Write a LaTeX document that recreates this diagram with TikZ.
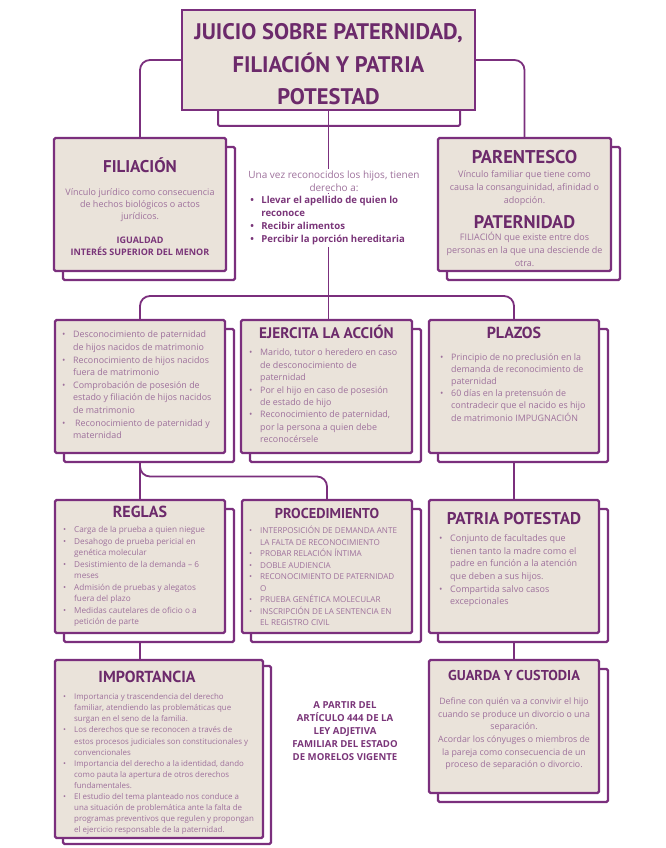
\documentclass[tikz,border=0pt]{standalone}
\usepackage{fontspec}
\setmainfont{Open Sans}
\newfontfamily\headfont{PT Sans}
\usetikzlibrary{positioning, calc, backgrounds, shadows}
\definecolor{DarkPurple}{HTML}{7B2F7D}
\definecolor{HeadPurple}{HTML}{6C2A6B}
\definecolor{BodyPurple}{HTML}{9E719C}
\definecolor{BoldPurple}{HTML}{7A3579}
\definecolor{BeigeBg}{HTML}{EAE3DA}
\tikzset{
    boxbase/.style={rectangle, draw=DarkPurple, fill=BeigeBg, line width=2.2pt, rounded corners=1.5pt, inner sep=0pt, outer sep=0pt},
    box/.style={boxbase, copy shadow={shadow xshift=9pt, shadow yshift=-9pt, fill=white, draw=DarkPurple, line width=2.2pt}},
    box_s/.style={boxbase, copy shadow={shadow xshift=8pt, shadow yshift=-6pt, fill=white, draw=DarkPurple, line width=2.2pt}},
    titlebox/.style={rectangle, draw=DarkPurple, fill=BeigeBg, line width=2pt, outer sep=0pt, minimum width=293pt, minimum height=100pt, align=center, text=HeadPurple, font=\headfont\bfseries\fontsize{22.5}{32.5}\selectfont},
    head/.style={text=HeadPurple, inner sep=0pt, anchor=base, font=\headfont\bfseries\fontsize{#1}{#1}\selectfont},
    body/.style n args={2}{text=BodyPurple, inner sep=0pt, align=left, font=\fontsize{#1}{#2}\selectfont},
    bodyb/.style n args={2}{text=BoldPurple, inner sep=0pt, align=left, font=\bfseries\fontsize{#1}{#2}\selectfont},
    conn/.style={draw=DarkPurple, line width=1.8pt, rounded corners=10pt},
}
\newcommand{\bul}{\makebox[11pt][l]{\textbullet}}
\newcommand{\cont}{\hspace*{11pt}}

\begin{document}
\begin{tikzpicture}[x=1pt, y=-1pt]
\useasboundingbox (0,0) rectangle (665,848);

% title
\node[titlebox] (title) at (328.5,60) {\rule{0pt}{25pt}JUICIO SOBRE PATERNIDAD,\\FILIACIÓN Y PATRIA\\POTESTAD};
\draw[DarkPurple, line width=2pt, rounded corners=1.5pt] ([xshift=36pt]title.south west) |- ([xshift=-15pt, yshift=-16pt]title.south east) -- ([xshift=-15pt]title.south east);

% first row
\node[box, minimum width=172pt, minimum height=133pt] (filiacion) at (140,204.5) {};
\node[head=17] (filiacionH) at ([yshift=-34pt]filiacion.north) {FILIACIÓN};
\node[body={9}{12.2}, align=center, below=15.6pt of filiacionH] (filiacionB) {Vínculo jurídico como consecuencia\\de hechos biológicos o actos\\jurídicos.\\[11.8pt]\textcolor{BoldPurple}{\bfseries IGUALDAD}\\\textcolor{BoldPurple}{\bfseries INTERÉS SUPERIOR DEL MENOR}};

\node[body={10}{12.5}, align=center, fill=white, inner sep=2pt, below=59pt of title.south, xshift=5.5pt] (derechos) {Una vez reconocidos los hijos, tienen\\derecho a:};
\node[bodyb={9.6}{13}, fill=white, inner sep=2pt, below right=0.5pt and 2pt of derechos.south west] (derechosL) {\bul Llevar el apellido de quien lo\\\cont reconoce\\\bul Recibir alimentos\\\bul Percibir la porción hereditaria};

\node[box, minimum width=173pt, minimum height=133pt, right=212pt of filiacion] (parentesco) {};
\node[head=18.5] (parentescoH) at ([yshift=-25.5pt]parentesco.north) {PARENTESCO};
\node[body={9}{13}, align=center, below=6.5pt of parentescoH] (parentescoB) {Vínculo familiar que tiene como\\causa la consanguinidad, afinidad o\\adopción.};
\node[head=18.3] (paternidadH) at ([yshift=-90.4pt]parentesco.north) {PATERNIDAD};
\node[body={9}{13}, align=center, below=3.6pt of paternidadH] (paternidadB) {FILIACIÓN que existe entre dos\\personas en la que una desciende de\\otra.};

% second row
\node[box, minimum width=170pt, minimum height=133pt] (supuestos) at (140,386.5) {};
\node[body={8.9}{12.6}, below right=11pt and 7pt of supuestos.north west] (supuestosB) {\bul Desconocimiento de paternidad\\\cont de hijos nacidos de matrimonio\\\bul Reconocimiento de hijos nacidos\\\cont fuera de matrimonio\\\bul Comprobación de posesión de\\\cont estado y filiación de hijos nacidos\\\cont de matrimonio\\\bul\hspace{2pt}Reconocimiento de paternidad y\\\cont maternidad};

\node[box, minimum width=171pt, minimum height=133pt, right=16pt of supuestos] (ejercita) {};
\node[head=15.3] (ejercitaH) at ([yshift=-18.4pt]ejercita.north) {EJERCITA LA ACCIÓN};
\node[body={8.9}{12.4}, below right=29pt and 8pt of ejercita.north west] (ejercitaB) {\bul Marido, tutor o heredero en caso\\\cont de desconocimiento de\\\cont paternidad\\\bul Por el hijo en caso de posesión\\\cont de estado de hijo\\\bul Reconocimiento de paternidad,\\\cont por la persona a quien debe\\\cont reconocérsele};

\node[box, minimum width=170pt, minimum height=133pt, right=17pt of ejercita] (plazos) {};
\node[head=16] (plazosH) at ([yshift=-18.6pt]plazos.north) {PLAZOS};
\node[body={8.9}{12.2}, below right=33pt and 11pt of plazos.north west] (plazosB) {\bul Principio de no preclusión en la\\\cont demanda de reconocimiento de\\\cont paternidad\\\bul 60 días en la pretensuón de\\\cont contradecir que el nacido es hijo\\\cont de matrimonio IMPUGNACIÓN};

% third row
\node[box, minimum width=170pt, minimum height=133pt, below=47pt of supuestos] (reglas) {};
\node[head=16] (reglasH) at ([yshift=-17.6pt]reglas.north) {REGLAS};
\node[body={8.2}{11.5}, below right=26.5pt and 8pt of reglas.north west] (reglasB) {\bul Carga de la prueba a quien niegue\\\bul Desahogo de prueba pericial en\\\cont genética molecular\\\bul Desistimiento de la demanda -- 6\\\cont meses\\\bul Admisión de pruebas y alegatos\\\cont fuera del plazo\\\bul Medidas cautelares de oficio o a\\\cont petición de parte};

\node[box, minimum width=170pt, minimum height=133pt, right=17pt of reglas] (proced) {};
\node[head=14.3] (procedH) at ([yshift=-18pt]proced.north) {PROCEDIMIENTO};
\node[body={8.1}{11.5}, below right=26pt and 7pt of proced.north west] (procedB) {\bul INTERPOSICIÓN DE DEMANDA ANTE\\\cont LA FALTA DE RECONOCIMIENTO\\\bul PROBAR RELACIÓN ÍNTIMA\\\bul DOBLE AUDIENCIA\\\bul RECONOCIMIENTO DE PATERNIDAD\\\cont O\\\bul PRUEBA GENÉTICA MOLECULAR\\\bul INSCRIPCIÓN DE LA SENTENCIA EN\\\cont EL REGISTRO CIVIL};

\node[box, minimum width=170pt, minimum height=133pt, right=17pt of proced] (patria) {};
\node[head=17] (patriaH) at ([yshift=-24pt]patria.north) {PATRIA POTESTAD};
\node[body={9}{12.6}, below right=34.6pt and 10pt of patria.north west] (patriaB) {\bul Conjunto de facultades que\\\cont tienen tanto la madre como el\\\cont padre en función a la atención\\\cont que deben a sus hijos.\\\bul Compartida salvo casos\\\cont excepcionales};

% fourth row
\node[box_s, minimum width=208pt, minimum height=178pt, below=27pt of reglas.south west, anchor=north west] (importancia) {};
\node[head=16] (importanciaH) at ([xshift=-12pt, yshift=-22.6pt]importancia.north) {IMPORTANCIA};
\node[body={7.9}{11.1}, below right=33.4pt and 8pt of importancia.north west] (importanciaB) {\bul Importancia y trascendencia del derecho\\\cont familiar, atendiendo las problemáticas que\\\cont surgan en el seno de la familia.\\\bul Los derechos que se reconocen a través de\\\cont estos procesos judiciales son constitucionales y\\\cont convencionales\\\bul Importancia del derecho a la identidad, dando\\\cont como pauta la apertura de otros derechos\\\cont fundamentales.\\\bul El estudio del tema planteado nos conduce a\\\cont una situación de problemática ante la falta de\\\cont programas preventivos que regulen y propongan\\\cont el ejercicio responsable de la paternidad.};

\node[box, minimum width=170pt, minimum height=133pt, below=27pt of patria] (guarda) {};
\node[head=14.3] (guardaH) at ([yshift=-20pt]guarda.north) {GUARDA Y CUSTODIA};
\node[body={8.8}{12.7}, align=center, below=17pt of guardaH] (guardaB) {Define con quién va a convivir el hijo\\cuando se produce un divorcio o una\\separación.\\Acordar los cónyuges o miembros de\\la pareja como consecuencia de un\\proceso de separación o divorcio.};

\node[bodyb={9.6}{13}, align=center] (articulo) at (345,731) {A PARTIR DEL\\ARTÍCULO 444 DE LA\\LEY ADJETIVA\\FAMILIAR DEL ESTADO\\DE MORELOS VIGENTE};

% connectors
\begin{scope}[on background layer]
\draw[conn] (title.west) -| (filiacion.north);
\draw[conn] (title.east) -| (parentesco.north);
\draw[conn] (title.south) -- (title.south |- ejercita.north);
\draw[conn] (supuestos.north) |- ($(plazos.north)+(0,-24)$) -- (plazos.north);
\draw[conn] (supuestos.south) -- (reglas.north);
\draw[conn] (supuestos.south) |- ($(proced.north)+(0,-23.5)$) -- (proced.north);
\draw[conn] (plazos.south) -- (patria.north);
\draw[conn] (reglas.south) -- (reglas.south |- importancia.north);
\draw[conn] (patria.south) -- (guarda.north);
\end{scope}
\end{tikzpicture}
\end{document}
